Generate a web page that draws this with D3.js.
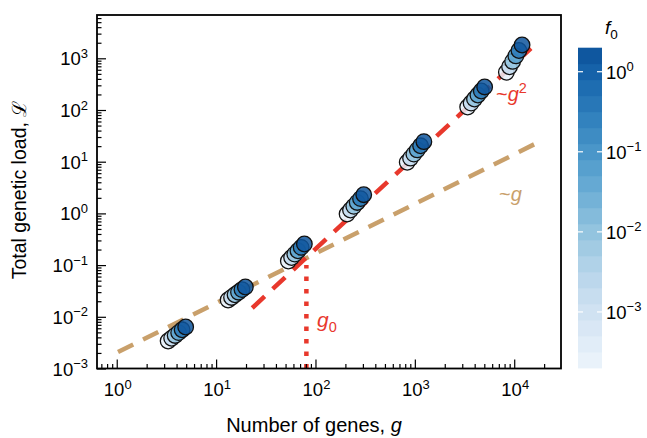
<!DOCTYPE html>
<html>
<head>
<meta charset="utf-8">
<script src="https://cdn.jsdelivr.net/npm/d3@7"></script>
<style>
  html, body { margin: 0; padding: 0; background: #fff; }
  svg { display: block; font-family: "Liberation Sans", Arial, Helvetica, sans-serif; }
</style>
</head>
<body>
<svg id="chart" width="647" height="438"></svg>
<script>
// ---------------- DATA ----------------
const f0Levels = [0.0003, 0.002, 0.01, 0.06, 0.35, 1.8];
// each row: one cluster of simulations (lightest f0 -> darkest f0)
const genesG = [
  [3.29, 3.57, 3.87, 4.20, 4.55, 4.94],
  [13.2, 14.3, 15.5, 16.8, 18.2, 19.7],
  [53.3, 57.5, 61.9, 66.6, 71.8, 77.3],
  [208, 225, 243, 263, 284, 306],
  [838, 905, 977, 1057, 1142, 1233],
  [3400, 3680, 3980, 4310, 4660, 5040],
  [8340, 8970, 9640, 10380, 11150, 11990]
];
const loadL = [
  [0.00340, 0.00385, 0.00436, 0.00494, 0.00561, 0.00635],
  [0.0211, 0.0237, 0.0267, 0.0299, 0.0336, 0.0377],
  [0.120, 0.140, 0.163, 0.189, 0.220, 0.256],
  [0.973, 1.16, 1.37, 1.63, 1.93, 2.30],
  [9.73, 11.7, 14.0, 16.9, 20.3, 24.4],
  [114, 136, 163, 195, 233, 279],
  [536, 685, 871, 1112, 1416, 1808]
];
const fitLinearG = [1.03, 18500];
const fitLinearL = [0.00208, 25.1];
const fitQuadG = [23.1, 17660];
const fitQuadL = [0.0148, 2163];
const g0Value = 81;
const g0LineL = [0.001, 0.1];
const xTickValues = [1, 10, 100, 1000, 10000];
const xTickExp = ["0", "1", "2", "3", "4"];
const yTickValues = [0.001, 0.01, 0.1, 1, 10, 100, 1000];
const yTickExp = ["\u22123", "\u22122", "\u22121", "0", "1", "2", "3"];
const cbTickValues = [0.001, 0.01, 0.1, 1];
const cbTickExp = ["\u22123", "\u22122", "\u22121", "0"];
const cbDomain = [Math.pow(10, -3.7), Math.pow(10, 0.3)];
const cbBands = 20;

// ---------------- LAYOUT ----------------
const svg = d3.select("#chart");
const L = 97, R = 561, T = 15, B = 368.5;
const x = d3.scaleLog().domain([Math.pow(10, -0.1986), Math.pow(10, 4.4708)]).range([L, R]);
const y = d3.scaleLog().domain([0.001, Math.pow(10, -3 + (B - T) / 51.7)]).range([B, T]);

const cbScale = d3.scaleLog().domain(cbDomain).range([368, 47.7]);
const colorT = d3.scaleLog().domain(cbDomain).range([0, 1]).clamp(true);
const color = f => d3.interpolateBlues(0.05 + 0.82 * colorT(f));

const red = "#e8382c", tan = "#c9a06b";
const FS = 18.5, SUP = 13;

function logTicks(lo, hi) {
  const out = [];
  for (let e = Math.floor(Math.log10(lo)); e <= Math.ceil(Math.log10(hi)); e++) {
    for (let m = 1; m < 10; m++) {
      const v = m * Math.pow(10, e);
      if (v >= lo && v <= hi) out.push(v);
    }
  }
  return out;
}
const xMinor = logTicks(x.domain()[0], x.domain()[1]).filter(v => !xTickValues.some(t => Math.abs(t - v) / t < 1e-9));
const yMinor = logTicks(y.domain()[0], y.domain()[1]).filter(v => !yTickValues.some(t => Math.abs(t - v) / t < 1e-9));

const plot = svg.append("g");

// fit lines
const line = d3.line().x(d => x(d[0])).y(d => y(d[1]));
plot.append("path")
  .datum(d3.zip(fitLinearG, fitLinearL))
  .attr("d", line).attr("fill", "none").attr("stroke", tan)
  .attr("stroke-width", 4.5).attr("stroke-dasharray", "17,11");
plot.append("path")
  .datum(d3.zip(fitQuadG, fitQuadL))
  .attr("d", line).attr("fill", "none").attr("stroke", red)
  .attr("stroke-width", 4.5).attr("stroke-dasharray", "17,11");
plot.append("path")
  .datum(g0LineL.map(v => [g0Value, v]))
  .attr("d", line).attr("fill", "none").attr("stroke", red)
  .attr("stroke-width", 4.5).attr("stroke-dasharray", "4.5,8");

// points: lightest first so the darkest end up on top
const pts = [];
genesG.forEach((row, i) => row.forEach((g, j) => pts.push({ g, L: loadL[i][j], f: f0Levels[j] })));
pts.sort((a, b) => a.f - b.f);
plot.selectAll("circle.pt").data(pts).join("circle")
  .attr("class", "pt")
  .attr("cx", d => x(d.g)).attr("cy", d => y(d.L)).attr("r", 7.8)
  .attr("fill", d => color(d.f)).attr("fill-opacity", 0.85)
  .attr("stroke", "#111").attr("stroke-width", 1.3);

// axes
const axX = svg.append("g").attr("transform", `translate(0,${B})`);
axX.call(d3.axisBottom(x).tickValues(xTickValues).tickSize(-9).tickFormat(""));
axX.append("g").call(d3.axisBottom(x).tickValues(xMinor).tickSize(-4.5).tickFormat(""));
const axY = svg.append("g").attr("transform", `translate(${L},0)`);
axY.call(d3.axisLeft(y).tickValues(yTickValues).tickSize(-9).tickFormat(""));
axY.append("g").call(d3.axisLeft(y).tickValues(yMinor).tickSize(-4.5).tickFormat(""));
svg.selectAll(".domain").remove();
svg.selectAll(".tick line").attr("stroke", "#000").attr("stroke-width", 1.2);

// frame
svg.append("rect").attr("x", L).attr("y", T).attr("width", R - L).attr("height", B - T)
  .attr("fill", "none").attr("stroke", "#000").attr("stroke-width", 1.8);

// tick labels
xTickValues.forEach((v, i) => {
  const t = svg.append("text").attr("x", x(v) + 1).attr("y", 396)
    .attr("text-anchor", "middle").attr("font-size", FS).attr("fill", "#000");
  t.append("tspan").text("10");
  t.append("tspan").attr("dy", -7.5).attr("font-size", SUP).text(xTickExp[i]);
});
yTickValues.forEach((v, i) => {
  const t = svg.append("text").attr("x", 88).attr("y", y(v) + 7)
    .attr("text-anchor", "end").attr("font-size", FS).attr("fill", "#000");
  t.append("tspan").text("10");
  t.append("tspan").attr("dy", -7.5).attr("font-size", SUP).text(yTickExp[i]);
});

// axis titles
const xt = svg.append("text").attr("x", 314).attr("y", 432).attr("text-anchor", "middle")
  .attr("font-size", 20).attr("fill", "#000");
xt.append("tspan").text("Number of genes, ");
xt.append("tspan").attr("font-style", "italic").text("g");
svg.append("text").attr("transform", "translate(26,190) rotate(-90)")
  .attr("text-anchor", "middle").attr("font-size", 19.5).attr("fill", "#000")
  .text("Total genetic load, \u2112");

// annotations
const a1 = svg.append("text").attr("x", 496).attr("y", 101).attr("font-size", 20).attr("fill", red);
a1.append("tspan").text("~");
a1.append("tspan").attr("font-style", "italic").text("g");
a1.append("tspan").attr("dy", -8).attr("font-size", 14.5).text("2");
const a2 = svg.append("text").attr("x", 499).attr("y", 201).attr("font-size", 20).attr("fill", tan);
a2.append("tspan").text("~");
a2.append("tspan").attr("font-style", "italic").text("g");
const a3 = svg.append("text").attr("x", 317).attr("y", 327).attr("font-size", 21).attr("fill", red);
a3.append("tspan").attr("font-style", "italic").text("g");
a3.append("tspan").attr("dy", 5).attr("font-size", 14.5).text("0");

// colorbar
const cbX = 578, cbW = 24;
const lo = Math.log10(cbDomain[0]), hi = Math.log10(cbDomain[1]);
const bands = d3.range(cbBands).map(i => ({
  a: Math.pow(10, lo + (hi - lo) * i / cbBands),
  b: Math.pow(10, lo + (hi - lo) * (i + 1) / cbBands),
  mid: Math.pow(10, lo + (hi - lo) * (i + 0.5) / cbBands)
}));
svg.append("g").selectAll("rect").data(bands).join("rect")
  .attr("x", cbX).attr("width", cbW)
  .attr("y", d => cbScale(d.b)).attr("height", d => cbScale(d.a) - cbScale(d.b) + 0.4)
  .attr("fill", d => color(d.mid));
cbTickValues.forEach((v, i) => {
  const yy = cbScale(v);
  svg.append("line").attr("x1", cbX).attr("x2", cbX + 5).attr("y1", yy).attr("y2", yy)
    .attr("stroke", "#fff").attr("stroke-width", 1.2);
  svg.append("line").attr("x1", cbX + cbW - 5).attr("x2", cbX + cbW).attr("y1", yy).attr("y2", yy)
    .attr("stroke", "#fff").attr("stroke-width", 1.2);
  const t = svg.append("text").attr("x", 606).attr("y", yy + 7)
    .attr("font-size", FS).attr("fill", "#000");
  t.append("tspan").text("10");
  t.append("tspan").attr("dy", -7.5).attr("font-size", SUP).text(cbTickExp[i]);
});
const ft = svg.append("text").attr("x", 605).attr("y", 34).attr("font-size", 19).attr("fill", "#000");
ft.append("tspan").attr("font-style", "italic").text("f");
ft.append("tspan").attr("dy", 5).attr("font-size", 13.5).text("0");
</script>
</body>
</html>
